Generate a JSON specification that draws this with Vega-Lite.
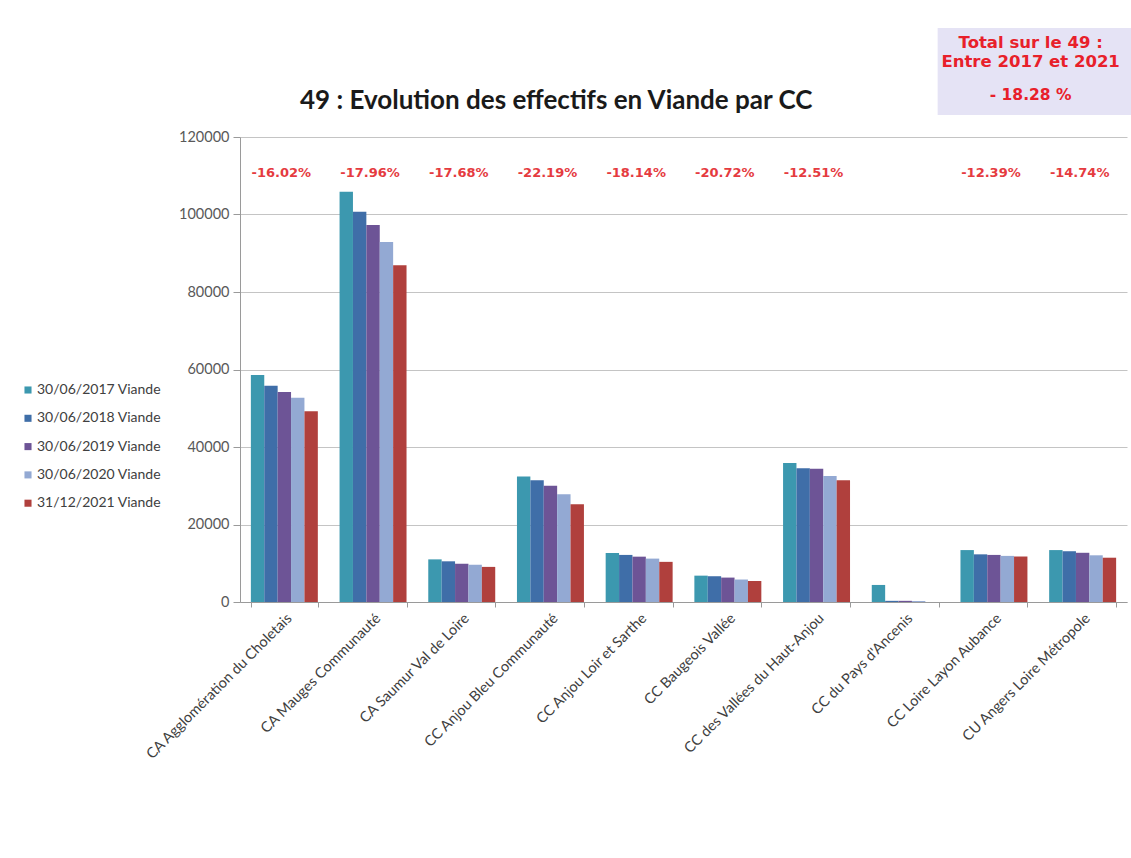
{
  "$schema": "https://vega.github.io/schema/vega-lite/v6.json",
  "width": 887,
  "height": 465,
  "autosize": {"type": "none"},
  "padding": {"left": 240, "top": 137, "right": 4, "bottom": 256},
  "background": "white",
  "title": {
    "text": "49 : Evolution des effectifs en Viande par CC",
    "anchor": "start",
    "dx": 279,
    "offset": -86,
    "font": "Lato",
    "fontSize": 26,
    "fontWeight": "bold",
    "color": "#1a1a1a"
  },
  "config": {
    "view": {"stroke": null},
    "legend": {
      "orient": "none",
      "legendX": -219,
      "legendY": 246,
      "symbolType": "square",
      "symbolSize": 50,
      "symbolStrokeWidth": 0,
      "labelFont": "Lato",
      "labelFontSize": 14,
      "labelColor": "#404040",
      "rowPadding": 14.3,
      "labelOffset": 2
    }
  },
  "datasets": {
    "bars": [
      {"cc": "CA Agglomération du Choletais", "serie": "30/06/2017 Viande", "effectif": 58600},
      {"cc": "CA Agglomération du Choletais", "serie": "30/06/2018 Viande", "effectif": 55800},
      {"cc": "CA Agglomération du Choletais", "serie": "30/06/2019 Viande", "effectif": 54200},
      {"cc": "CA Agglomération du Choletais", "serie": "30/06/2020 Viande", "effectif": 52700},
      {"cc": "CA Agglomération du Choletais", "serie": "31/12/2021 Viande", "effectif": 49200},
      {"cc": "CA Mauges Communauté", "serie": "30/06/2017 Viande", "effectif": 105900},
      {"cc": "CA Mauges Communauté", "serie": "30/06/2018 Viande", "effectif": 100700},
      {"cc": "CA Mauges Communauté", "serie": "30/06/2019 Viande", "effectif": 97300},
      {"cc": "CA Mauges Communauté", "serie": "30/06/2020 Viande", "effectif": 92900},
      {"cc": "CA Mauges Communauté", "serie": "31/12/2021 Viande", "effectif": 86900},
      {"cc": "CA Saumur Val de Loire", "serie": "30/06/2017 Viande", "effectif": 11000},
      {"cc": "CA Saumur Val de Loire", "serie": "30/06/2018 Viande", "effectif": 10500},
      {"cc": "CA Saumur Val de Loire", "serie": "30/06/2019 Viande", "effectif": 9900},
      {"cc": "CA Saumur Val de Loire", "serie": "30/06/2020 Viande", "effectif": 9600},
      {"cc": "CA Saumur Val de Loire", "serie": "31/12/2021 Viande", "effectif": 9060},
      {"cc": "CC Anjou Bleu Communauté", "serie": "30/06/2017 Viande", "effectif": 32400},
      {"cc": "CC Anjou Bleu Communauté", "serie": "30/06/2018 Viande", "effectif": 31400},
      {"cc": "CC Anjou Bleu Communauté", "serie": "30/06/2019 Viande", "effectif": 30000},
      {"cc": "CC Anjou Bleu Communauté", "serie": "30/06/2020 Viande", "effectif": 27800},
      {"cc": "CC Anjou Bleu Communauté", "serie": "31/12/2021 Viande", "effectif": 25200},
      {"cc": "CC Anjou Loir et Sarthe", "serie": "30/06/2017 Viande", "effectif": 12650},
      {"cc": "CC Anjou Loir et Sarthe", "serie": "30/06/2018 Viande", "effectif": 12150},
      {"cc": "CC Anjou Loir et Sarthe", "serie": "30/06/2019 Viande", "effectif": 11700},
      {"cc": "CC Anjou Loir et Sarthe", "serie": "30/06/2020 Viande", "effectif": 11200},
      {"cc": "CC Anjou Loir et Sarthe", "serie": "31/12/2021 Viande", "effectif": 10360},
      {"cc": "CC Baugeois Vallée", "serie": "30/06/2017 Viande", "effectif": 6800},
      {"cc": "CC Baugeois Vallée", "serie": "30/06/2018 Viande", "effectif": 6650},
      {"cc": "CC Baugeois Vallée", "serie": "30/06/2019 Viande", "effectif": 6300},
      {"cc": "CC Baugeois Vallée", "serie": "30/06/2020 Viande", "effectif": 5800},
      {"cc": "CC Baugeois Vallée", "serie": "31/12/2021 Viande", "effectif": 5390},
      {"cc": "CC des Vallées du Haut-Anjou", "serie": "30/06/2017 Viande", "effectif": 35900},
      {"cc": "CC des Vallées du Haut-Anjou", "serie": "30/06/2018 Viande", "effectif": 34500},
      {"cc": "CC des Vallées du Haut-Anjou", "serie": "30/06/2019 Viande", "effectif": 34400},
      {"cc": "CC des Vallées du Haut-Anjou", "serie": "30/06/2020 Viande", "effectif": 32500},
      {"cc": "CC des Vallées du Haut-Anjou", "serie": "31/12/2021 Viande", "effectif": 31400},
      {"cc": "CC du Pays d'Ancenis", "serie": "30/06/2017 Viande", "effectif": 4400},
      {"cc": "CC du Pays d'Ancenis", "serie": "30/06/2018 Viande", "effectif": 300},
      {"cc": "CC du Pays d'Ancenis", "serie": "30/06/2019 Viande", "effectif": 300},
      {"cc": "CC du Pays d'Ancenis", "serie": "30/06/2020 Viande", "effectif": 250},
      {"cc": "CC du Pays d'Ancenis", "serie": "31/12/2021 Viande", "effectif": 0},
      {"cc": "CC Loire Layon Aubance", "serie": "30/06/2017 Viande", "effectif": 13400},
      {"cc": "CC Loire Layon Aubance", "serie": "30/06/2018 Viande", "effectif": 12300},
      {"cc": "CC Loire Layon Aubance", "serie": "30/06/2019 Viande", "effectif": 12150},
      {"cc": "CC Loire Layon Aubance", "serie": "30/06/2020 Viande", "effectif": 11900},
      {"cc": "CC Loire Layon Aubance", "serie": "31/12/2021 Viande", "effectif": 11740},
      {"cc": "CU Angers Loire Métropole", "serie": "30/06/2017 Viande", "effectif": 13400},
      {"cc": "CU Angers Loire Métropole", "serie": "30/06/2018 Viande", "effectif": 13100},
      {"cc": "CU Angers Loire Métropole", "serie": "30/06/2019 Viande", "effectif": 12700},
      {"cc": "CU Angers Loire Métropole", "serie": "30/06/2020 Viande", "effectif": 12050},
      {"cc": "CU Angers Loire Métropole", "serie": "31/12/2021 Viande", "effectif": 11430}
    ],
    "pcts": [
      {"cc": "CA Agglomération du Choletais", "pct": "-16.02%"},
      {"cc": "CA Mauges Communauté", "pct": "-17.96%"},
      {"cc": "CA Saumur Val de Loire", "pct": "-17.68%"},
      {"cc": "CC Anjou Bleu Communauté", "pct": "-22.19%"},
      {"cc": "CC Anjou Loir et Sarthe", "pct": "-18.14%"},
      {"cc": "CC Baugeois Vallée", "pct": "-20.72%"},
      {"cc": "CC des Vallées du Haut-Anjou", "pct": "-12.51%"},
      {"cc": "CC Loire Layon Aubance", "pct": "-12.39%"},
      {"cc": "CU Angers Loire Métropole", "pct": "-14.74%"}
    ],
    "box": [{"label": "total"}]
  },
  "layer": [
    {
      "data": {"name": "bars"},
      "mark": {"type": "bar"},
      "encoding": {
        "x": {
          "field": "cc",
          "type": "nominal",
          "sort": null,
          "scale": {
            "domain": ["CA Agglomération du Choletais", "CA Mauges Communauté", "CA Saumur Val de Loire", "CC Anjou Bleu Communauté", "CC Anjou Loir et Sarthe", "CC Baugeois Vallée", "CC des Vallées du Haut-Anjou", "CC du Pays d'Ancenis", "CC Loire Layon Aubance", "CU Angers Loire Métropole"],
            "paddingInner": 0.245,
            "paddingOuter": 0.1225
          },
          "axis": {
            "title": null,
            "labelAngle": -45,
            "labelAlign": "right",
            "labelBaseline": "top",
            "labelFont": "Lato",
            "labelFontSize": 14.5,
            "labelColor": "#404040",
            "labelLimit": 300,
            "labelPadding": 4,
            "tickBand": "extent",
            "tickSize": 5,
            "tickColor": "#9a9a9a",
            "domainColor": "#9a9a9a",
            "grid": false
          }
        },
        "xOffset": {
          "field": "serie",
          "type": "nominal",
          "sort": null,
          "scale": {"paddingInner": 0, "paddingOuter": 0}
        },
        "y": {
          "field": "effectif",
          "type": "quantitative",
          "scale": {"domain": [0, 120000], "nice": false},
          "axis": {
            "title": null,
            "format": "d",
            "values": [0, 20000, 40000, 60000, 80000, 100000, 120000],
            "grid": true,
            "gridColor": "#c4c4c4",
            "domainColor": "#9a9a9a",
            "tickColor": "#9a9a9a",
            "tickSize": 7,
            "labelFont": "Lato",
            "labelFontSize": 14.5,
            "labelColor": "#595959",
            "labelPadding": 4
          }
        },
        "color": {
          "field": "serie",
          "type": "nominal",
          "sort": null,
          "scale": {
            "domain": ["30/06/2017 Viande", "30/06/2018 Viande", "30/06/2019 Viande", "30/06/2020 Viande", "31/12/2021 Viande"],
            "range": ["#3c98af", "#3f6ea8", "#6d5496", "#93a9d3", "#b0403d"]
          },
          "legend": {"title": null}
        }
      }
    },
    {
      "data": {"name": "pcts"},
      "mark": {"type": "text", "font": "DejaVu Sans", "fontSize": 13, "fontWeight": "bold", "color": "#e53b3f", "baseline": "middle", "align": "center", "dx": -3},
      "encoding": {
        "x": {"field": "cc", "type": "nominal", "sort": null},
        "y": {"datum": 110700},
        "text": {"field": "pct"}
      }
    },
    {
      "data": {"name": "box"},
      "mark": {"type": "bar", "width": 290, "color": "#e5e3f5"},
      "encoding": {
        "x": {"datum": "CU Angers Loire Métropole"},
        "y": {"datum": 148100},
        "y2": {"datum": 125700}
      }
    },
    {
      "data": {"name": "box"},
      "mark": {
        "type": "text",
        "text": ["Total sur le 49 :", "Entre 2017 et 2021"],
        "font": "DejaVu Sans",
        "fontSize": 16.5,
        "fontWeight": "bold",
        "color": "#e8202a",
        "align": "center",
        "baseline": "top",
        "lineHeight": 19,
        "dx": -52
      },
      "encoding": {
        "x": {"datum": "CU Angers Loire Métropole"},
        "y": {"datum": 146300}
      }
    },
    {
      "data": {"name": "box"},
      "mark": {
        "type": "text",
        "text": "- 18.28 %",
        "font": "DejaVu Sans",
        "fontSize": 15.5,
        "fontWeight": "bold",
        "color": "#e8202a",
        "align": "center",
        "baseline": "middle",
        "dx": -52
      },
      "encoding": {
        "x": {"datum": "CU Angers Loire Métropole"},
        "y": {"datum": 130800}
      }
    }
  ]
}
